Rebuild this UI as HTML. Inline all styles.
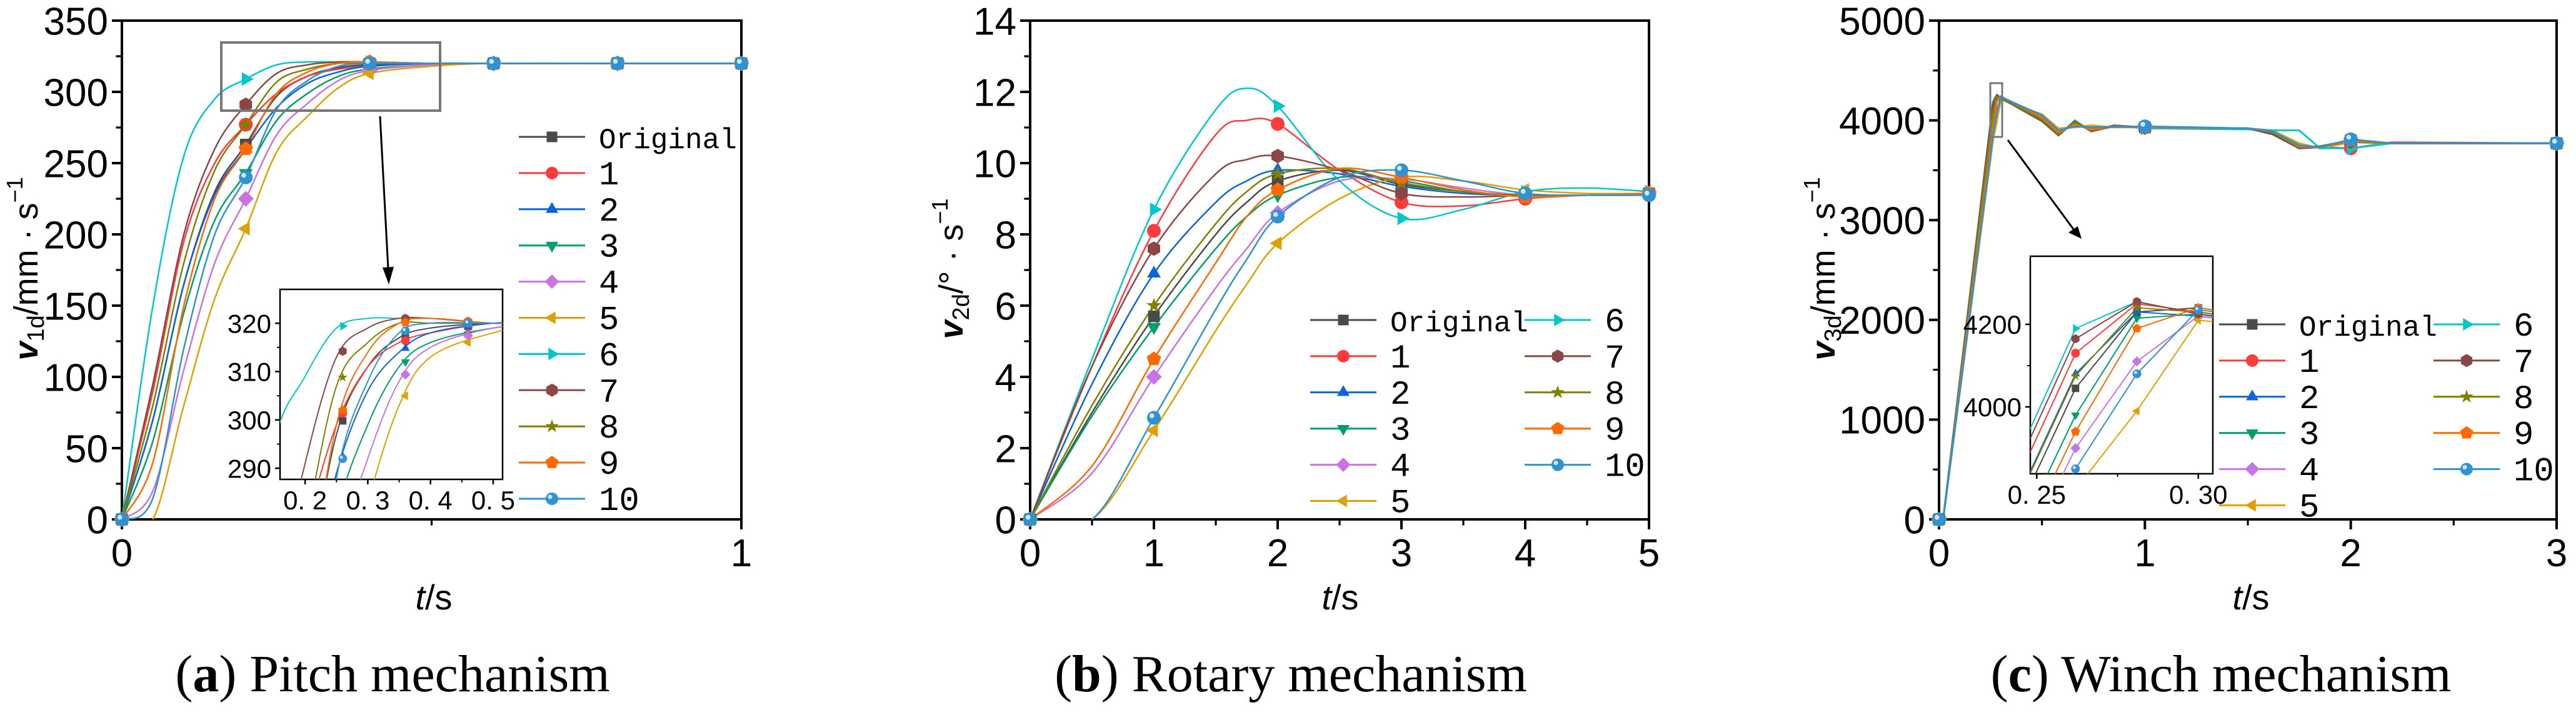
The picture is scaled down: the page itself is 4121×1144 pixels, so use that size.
<!DOCTYPE html>
<html><head><meta charset="utf-8"><style>
html,body{margin:0;padding:0;background:#fff;width:4121px;height:1144px;overflow:hidden;}
svg{display:block;}
</style></head><body>
<svg id="fig" xmlns="http://www.w3.org/2000/svg" width="4121" height="1144" viewBox="0 0 4121 1144">
<rect width="4121" height="1144" fill="#fff"/>
<g id="root"></g>
</svg>
<script>
// ---------- shared data ----------
const seriesNames = ["Original","1","2","3","4","5","6","7","8","9","10"];
const seriesColors = ["#4a4a4a","#ff3b3b","#0a64dc","#00a064","#c873e6","#e0a000","#00c8c8","#8c4646","#808000","#ff6a00","#2f92d2"];
const seriesMarkers = ["square","circle","up","down","diamond","left","right","hex","star","pent","ball"];

// ---------- (a) pitch ----------
const pitchT = [0,0.05,0.1,0.15,0.2,0.25,0.3,0.35,0.4,0.5,0.6,0.8,1.0];
const pitchOrig = [0,70,165,230,263,297,311,317,319,320,320,320,320];
const pitch1 = [0,90,195,250,277,299,311,316,318,320,320,320,320];
const pitch2 = [0,70,165,228,260,289,306,314,318,320,320,320,320];
const pitch3 = [0,55,145,210,243,280,299,311,316,319,320,320,320];
const pitch4 = [0,20,105,180,225,270,292,308,315,319,320,320,320];
const pitch5 = [0,0,80,155,204,258,283,303,313,318,320,320,320];
const pitch6 = [0,150,255,295,309,319,321,321,321,320,320,320,320];
const pitch7 = [0,95,200,260,291,313,319,321,321,320,320,320,320];
const pitch8 = [0,80,180,245,277,307,316,320,320,320,320,320,320];
const pitch9 = [0,40,150,225,260,299,314,320,321,320,320,320,320];
const pitch10 = [0,15,120,200,240,288,308,318,320,320,320,320,320];
const pitchSeries = [pitchOrig,pitch1,pitch2,pitch3,pitch4,pitch5,pitch6,pitch7,pitch8,pitch9,pitch10];
const pitchYTicks = [0,50,100,150,200,250,300,350];
const pitchXTicks = [0,1];
const pitchMarkT = [0,0.2,0.4,0.6,0.8,1.0];
const pitchInsetMarkT = [0.26,0.36,0.46];
const pitchInsetYTicks = [290,300,310,320];
const pitchInsetXTicks = [0.2,0.3,0.4,0.5];

// ---------- (b) rotary ----------
const rotT = [0,0.5,1,1.5,1.75,2,2.5,3,3.5,4,4.5,5];
const rotOrig = [0,3.0,5.7,8.0,8.9,9.5,9.8,9.4,9.2,9.1,9.1,9.15];
const rot1 = [0,4.3,8.1,10.8,11.2,11.1,9.8,8.9,8.8,9.0,9.1,9.15];
const rot2 = [0,3.8,6.9,8.9,9.5,9.8,9.7,9.35,9.15,9.1,9.1,9.15];
const rot3 = [0,2.9,5.4,7.6,8.5,9.1,9.6,9.5,9.2,9.1,9.1,9.15];
const rot4 = [0,1.3,4.0,6.5,7.6,8.6,9.5,9.55,9.3,9.1,9.1,9.15];
const rot5 = [0,0,2.5,5.3,6.6,7.75,9.0,9.6,9.5,9.25,9.15,9.15];
const rot6 = [0,4.5,8.7,11.5,12.1,11.6,9.5,8.45,8.7,9.2,9.3,9.2];
const rot7 = [0,4.3,7.6,9.7,10.1,10.2,9.8,9.15,9.05,9.1,9.1,9.15];
const rot8 = [0,3.2,6.0,8.3,9.2,9.7,9.85,9.45,9.2,9.1,9.1,9.15];
const rot9 = [0,1.5,4.5,7.2,8.5,9.25,9.85,9.6,9.25,9.05,9.1,9.15];
const rot10 = [0,0,2.85,5.9,7.3,8.5,9.6,9.8,9.5,9.15,9.1,9.1];
const rotSeries = [rotOrig,rot1,rot2,rot3,rot4,rot5,rot6,rot7,rot8,rot9,rot10];
const rotYTicks = [0,2,4,6,8,10,12,14];
const rotXTicks = [0,1,2,3,4,5];
const rotMarkT = [0,1,2,3,4,5];

// ---------- (c) winch ----------
const winT = [0,0.02,0.262,0.281,0.30,0.5,0.58,0.66,0.74,0.85,1.0,1.5,1.62,1.75,1.85,2.0,2.2,3.0];
const winOrig = [0,0,4045,4230,4240,4020,3870,3970,3900,3940,3930,3920,3880,3730,3740,3800,3770,3770];
const win1 = [0,0,4130,4250,4230,4000,3850,3990,3890,3940,3930,3920,3870,3720,3730,3720,3780,3770];
const win2 = [0,0,4080,4230,4220,4010,3860,3980,3900,3945,3930,3920,3880,3730,3740,3790,3770,3770];
const win3 = [0,0,3980,4215,4225,4030,3880,3960,3910,3940,3930,3920,3890,3740,3730,3790,3770,3770];
const win4 = [0,0,3900,4110,4220,4040,3900,3950,3920,3935,3930,3920,3900,3750,3730,3780,3770,3770];
const win5 = [0,0,3800,3990,4210,4060,3920,3930,3950,3930,3930,3920,3900,3770,3720,3780,3770,3770];
const win6 = [0,0,4190,4255,4225,3990,3850,4000,3890,3950,3920,3910,3900,3900,3720,3720,3770,3770];
const win7 = [0,0,4165,4255,4225,3995,3850,3990,3890,3950,3930,3920,3860,3720,3740,3790,3770,3770];
const win8 = [0,0,4075,4240,4230,4010,3860,3980,3900,3940,3930,3920,3880,3730,3740,3790,3770,3770];
const win9 = [0,0,3940,4190,4240,4030,3880,3960,3910,3940,3930,3920,3890,3740,3730,3800,3770,3770];
const win10 = [0,0,3850,4080,4235,4050,3900,3940,3930,3935,3940,3920,3890,3750,3730,3810,3770,3770];
const winSeries = [winOrig,win1,win2,win3,win4,win5,win6,win7,win8,win9,win10];
const winYTicks = [0,1000,2000,3000,4000,5000];
const winXTicks = [0,1,2,3];
const winMarkT = [0,1,2,3];
const winInsetMarkT = [0.262,0.281,0.30];
const winInsetYTicks = [4000,4200];
const winInsetXTicks = [0.25,0.30];

// ---------- helpers ----------
const NS = "http://www.w3.org/2000/svg";
const root = document.getElementById("root");
function mk(tag, attrs, parent){
  const e = document.createElementNS(NS, tag);
  for (const k in attrs) e.setAttribute(k, attrs[k]);
  (parent||root).appendChild(e);
  return e;
}
function interp(ts, vs, t){
  if (t<=ts[0]) return vs[0];
  for (let i=1;i<ts.length;i++){
    if (t<=ts[i]){ const f=(t-ts[i-1])/(ts[i]-ts[i-1]); return vs[i-1]+f*(vs[i]-vs[i-1]); }
  }
  return vs[vs.length-1];
}
function smoothPath(pts){
  let d = "M"+pts[0][0].toFixed(1)+","+pts[0][1].toFixed(1);
  for (let i=0;i<pts.length-1;i++){
    const p0=pts[Math.max(0,i-1)], p1=pts[i], p2=pts[i+1], p3=pts[Math.min(pts.length-1,i+2)];
    const c1=[p1[0]+(p2[0]-p0[0])/6, p1[1]+(p2[1]-p0[1])/6];
    const c2=[p2[0]-(p3[0]-p1[0])/6, p2[1]-(p3[1]-p1[1])/6];
    d += " C"+c1[0].toFixed(1)+","+c1[1].toFixed(1)+" "+c2[0].toFixed(1)+","+c2[1].toFixed(1)+" "+p2[0].toFixed(1)+","+p2[1].toFixed(1);
  }
  return d;
}
function linePath(pts){ return pts.map((p,i)=>(i?"L":"M")+p[0].toFixed(1)+","+p[1].toFixed(1)).join(" "); }
function marker(g, type, x, y, s, color){
  let e;
  const r = s;
  if (type==="square") e = mk("rect",{x:x-r*0.85,y:y-r*0.85,width:r*1.7,height:r*1.7,fill:color},g);
  else if (type==="circle") e = mk("circle",{cx:x,cy:y,r:r,fill:color},g);
  else if (type==="ball"){ e = mk("circle",{cx:x,cy:y,r:r,fill:color},g); mk("circle",{cx:x-r*0.3,cy:y-r*0.3,r:r*0.35,fill:"#cfe8f8"},g); }
  else {
    let pts=[];
    const poly=(n,rot,rr)=>{for(let i=0;i<n;i++){const a=rot+i*2*Math.PI/n; pts.push([x+rr*Math.cos(a), y+rr*Math.sin(a)]);}};
    if (type==="up") poly(3,-Math.PI/2,r*1.15);
    else if (type==="down") poly(3,Math.PI/2,r*1.15);
    else if (type==="left") poly(3,Math.PI,r*1.15);
    else if (type==="right") poly(3,0,r*1.15);
    else if (type==="diamond") poly(4,-Math.PI/2,r*1.15);
    else if (type==="hex") poly(6,-Math.PI/2,r*1.05);
    else if (type==="pent") poly(5,-Math.PI/2,r*1.1);
    else if (type==="star"){ for(let i=0;i<10;i++){const a=-Math.PI/2+i*Math.PI/5; const rr=i%2?r*0.45:r*1.15; pts.push([x+rr*Math.cos(a), y+rr*Math.sin(a)]);} }
    e = mk("polygon",{points:pts.map(p=>p[0].toFixed(1)+","+p[1].toFixed(1)).join(" "),fill:color},g);
  }
  return e;
}
function txt(parent, x, y, s, attrs){
  const e = mk("text", Object.assign({x:x,y:y,"font-family":"Liberation Sans, sans-serif","fill":"#000"},attrs), parent);
  e.textContent = s;
  return e;
}
let clipId = 0;
function drawAxes(g, box, xd, yd, xTicks, yTicks, opts){
  const sx = t => box.L + (t-xd[0])/(xd[1]-xd[0])*(box.R-box.L);
  const sy = v => box.B - (v-yd[0])/(yd[1]-yd[0])*(box.B-box.T);
  const lw = opts.lw||4, tl = opts.tl||16, fs = opts.fs||60;
  mk("rect",{x:box.L,y:box.T,width:box.R-box.L,height:box.B-box.T,fill:"none",stroke:"#000","stroke-width":lw},g);
  const yax = mk("g",{},g);
  
  
  yTicks.forEach(v=>{
    mk("line",{x1:box.L-tl,x2:box.L,y1:sy(v),y2:sy(v),stroke:"#000","stroke-width":lw},yax);
    const t = txt(yax, box.L-tl-6, sy(v)+fs*0.36, opts.yfmt?opts.yfmt(v):String(v), {"font-size":fs,"text-anchor":"end"});
    
    
  });
  for (let i=0;i<yTicks.length-1;i++){
    const m=(yTicks[i]+yTicks[i+1])/2;
    mk("line",{x1:box.L-tl*0.6,x2:box.L,y1:sy(m),y2:sy(m),stroke:"#000","stroke-width":lw*0.8},yax);
  }
  const xax = mk("g",{},g);
  
  
  xTicks.forEach(v=>{
    mk("line",{x1:sx(v),x2:sx(v),y1:box.B,y2:box.B+tl,stroke:"#000","stroke-width":lw},xax);
    const t = txt(xax, sx(v), box.B+tl+fs*0.95, opts.xfmt?opts.xfmt(v):String(v), {"font-size":fs,"text-anchor":"middle"});
    
    
  });
  for (let i=0;i<xTicks.length-1;i++){
    const m=(xTicks[i]+xTicks[i+1])/2;
    mk("line",{x1:sx(m),x2:sx(m),y1:box.B,y2:box.B+tl*0.6,stroke:"#000","stroke-width":lw*0.8},xax);
  }
  return {sx, sy};
}
function drawSeries(g, box, sc, ts, series, markT, smooth, lw, ms, clipMarkers){
  const id = "clip"+(clipId++);
  const cp = mk("clipPath",{id:id},g);
  mk("rect",{x:box.L,y:box.T,width:box.R-box.L,height:box.B-box.T},cp);
  const cg = mk("g",{"clip-path":"url(#"+id+")"},g);
  series.forEach((vals,i)=>{
    const pts = ts.map((t,k)=>[sc.sx(t), sc.sy(vals[k])]);
    const p = mk("path",{d: smooth?smoothPath(pts):linePath(pts), fill:"none", stroke:seriesColors[i], "stroke-width":lw},cg);
    
    
  });
  const mg = clipMarkers ? mk("g",{"clip-path":"url(#"+id+")"},g) : mk("g",{},g);
  series.forEach((vals,i)=>{
    markT.forEach(t=>{
      const m = marker(mg, seriesMarkers[i], sc.sx(t), sc.sy(interp(ts, vals, t)), ms, seriesColors[i]);
      
      
    });
  });
}
function legend(g, x0, y0, dy, cols, colDx){
  const lg = mk("g",{},g);
  
  
  seriesNames.forEach((n,i)=>{
    let c=0, r=i;
    if (cols===2){ if (i<=5){c=0;r=i;} else {c=1;r=i-6;} }
    const x = x0 + c*colDx, y = y0 + r*dy;
    const e = mk("g",{},lg);
    
    
    mk("line",{x1:x,x2:x+106,y1:y,y2:y,stroke:seriesColors[i],"stroke-width":3},e);
    marker(e, seriesMarkers[i], x+53, y, 10, seriesColors[i]);
    txt(e, x+128, y+18, n, {"font-size":n==="Original"?46:54,"font-family":"Liberation Mono, monospace"});
  });
}
function yTitle(g, x, y, sub){
  const t = mk("text",{transform:"translate("+x+","+y+") rotate(-90)","font-family":"Liberation Sans, sans-serif","font-size":54,"text-anchor":"middle",fill:"#000"},g);
  
  
  const a = mk("tspan",{"font-style":"italic","font-weight":"bold"},t); a.textContent="v";
  const b = mk("tspan",{"font-size":38,dy:10},t); b.textContent=sub;
  const c = mk("tspan",{dy:-10},t); c.textContent=sub==="2d"?"/°  · s":"/mm · s";
  const d = mk("tspan",{"font-size":36,dy:-24},t); d.textContent="−1";
}
function xTitle(g, x, y){
  const t = mk("text",{x:x,y:y,"font-family":"Liberation Sans, sans-serif","font-size":56,"text-anchor":"middle",fill:"#000"},g);
  
  
  const a = mk("tspan",{"font-style":"italic"},t); a.textContent="t";
  const b = mk("tspan",{},t); b.textContent="/s";
}
function caption(g, x, label, rest){
  const t = mk("text",{x:x,y:1106,"font-family":"Liberation Serif, serif","font-size":84,"text-anchor":"middle",fill:"#000"},g);
  
  
  const a = mk("tspan",{},t); a.textContent="(";
  const b = mk("tspan",{"font-weight":"bold"},t); b.textContent=label;
  const c = mk("tspan",{},t); c.textContent=") "+rest;
}

// ---------- panel a ----------
(function(){
  const g = mk("g",{});
  
  
  const box = {L:195,R:1186,T:33,B:831};
  const sc = drawAxes(g, box, [0,1], [0,350], pitchXTicks, pitchYTicks, {prefix:"pitch",fs:62});
  drawSeries(g, box, sc, pitchT, pitchSeries, pitchMarkT, true, 2.5, 11, false);
  const zr = mk("rect",{x:354,y:68,width:350,height:109,fill:"none",stroke:"#777","stroke-width":4},g);
  
  
  mk("line",{x1:608,y1:186,x2:621,y2:430,stroke:"#000","stroke-width":3},g);
  mk("polygon",{points:"612,428 630,427 622,455",fill:"#000"},g);
  // inset
  const ib = {L:448,R:804,T:463,B:767};
  mk("rect",{x:ib.L,y:ib.T,width:ib.R-ib.L,height:ib.B-ib.T,fill:"#fff"},g);
  const ig = mk("g",{},g);
  
  
  const isc = drawAxes(ig, ib, [0.16,0.515], [287.7,327], pitchInsetXTicks, pitchInsetYTicks, {prefix:"inset-pitch",fs:42,lw:2.5,tl:8,xfmt:v=>v.toFixed(1).replace(".",". ")});
  drawSeries(ig, ib, isc, pitchT, pitchSeries, pitchInsetMarkT, true, 2, 7, true);
  legend(g, 830, 219, 57.9, 1, 0);
  yTitle(g, 60, 430, "1d");
  xTitle(g, 694, 975);
  caption(g, 628, "a", "Pitch mechanism");
})();

// ---------- panel b ----------
(function(){
  const g = mk("g",{});
  
  
  const box = {L:1648,R:2638,T:33,B:831};
  const sc = drawAxes(g, box, [0,5], [0,14], rotXTicks, rotYTicks, {prefix:"rotary",fs:62});
  drawSeries(g, box, sc, rotT, rotSeries, rotMarkT, true, 2.5, 11, false);
  legend(g, 2096, 512, 57.9, 2, 343);
  yTitle(g, 1540, 430, "2d");
  xTitle(g, 2144, 975);
  caption(g, 2065, "b", "Rotary mechanism");
})();

// ---------- panel c ----------
(function(){
  const g = mk("g",{});
  
  
  const box = {L:3102,R:4090,T:33,B:831};
  const sc = drawAxes(g, box, [0,3], [0,5000], winXTicks, winYTicks, {prefix:"winch",fs:62});
  drawSeries(g, box, sc, winT, winSeries, winMarkT, false, 3, 11, false);
  const zr = mk("rect",{x:3184,y:133,width:19,height:86,fill:"none",stroke:"#777","stroke-width":3},g);
  
  
  mk("line",{x1:3212,y1:224,x2:3318,y2:368,stroke:"#000","stroke-width":3},g);
  mk("polygon",{points:"3309,372 3324,362 3330,382",fill:"#000"},g);
  const ib = {L:3248,R:3540,T:410,B:758};
  mk("rect",{x:ib.L,y:ib.T,width:ib.R-ib.L,height:ib.B-ib.T,fill:"#fff"},g);
  const ig = mk("g",{},g);
  
  
  const isc = drawAxes(ig, ib, [0.248,0.3045], [3838,4365], winInsetXTicks, winInsetYTicks, {prefix:"inset-winch",fs:42,lw:2.5,tl:8,xfmt:v=>v.toFixed(2).replace(".",". ")});
  drawSeries(ig, ib, isc, winT, winSeries, winInsetMarkT, false, 2, 7, true);
  legend(g, 3550, 519, 57.9, 2, 343);
  yTitle(g, 2935, 430, "3d");
  xTitle(g, 3601, 975);
  caption(g, 3553, "c", "Winch mechanism");
})();
</script>
</body></html>
